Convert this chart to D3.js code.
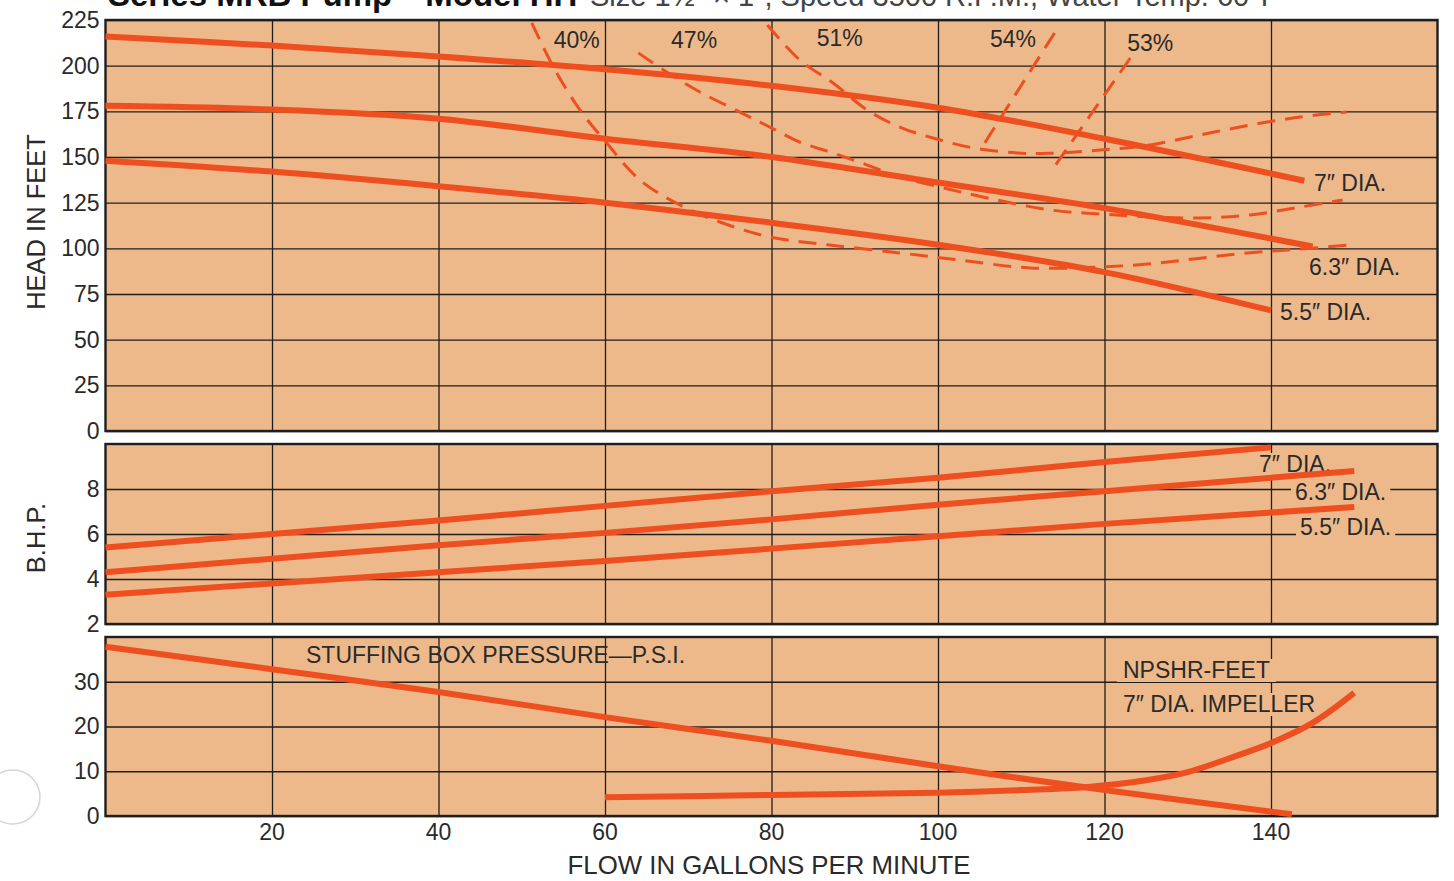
<!DOCTYPE html>
<html>
<head>
<meta charset="utf-8">
<script src="https://cdn.jsdelivr.net/npm/d3@7"></script>
<style>
  body{margin:0;background:#fff;}
  svg{display:block;font-family:"Liberation Sans",Arial,sans-serif;}
  .tick text{fill:#2a2a2a;font-size:23px;}
  .lbl{fill:#2a2a2a;font-size:23px;}
</style>
</head>
<body>
<div id="chart"></div>
<script>
/* Pump performance chart: head / B.H.P. / stuffing box + NPSHR panels */

// ---- data ----
var flowTicks=[20,40,60,80,100,120,140];
var headTicks=[0,25,50,75,100,125,150,175,200,225];
var bhpTicks=[2,4,6,8];
var psiTicks=[0,10,20,30];

// head-capacity curves [gpm, feet]
var head7 =[[0,216],[20,211],[40,205],[60,198],[80,189],[100,177],[120,160],[144,137]];
var head63=[[0,178],[20,176],[40,171],[60,160],[80,150],[100,136],[120,122],[145,101]];
var head55=[[0,148],[20,142],[40,134],[60,125],[80,114],[100,102],[120,87],[140,66]];

// iso-efficiency curves [gpm, feet]
var eff40=[[51.2,223.4],[54,197.6],[57,175.7],[59.9,159.3],[64.2,137.4],[69,123.7],[73.8,114.4],[79.8,106.2],[87,101.8],[95.4,97.5],[102.6,93.6],[111,89.3],[119.5,89.8],[125.5,91.5],[131.5,94.6],[137.5,97.6],[143.5,99.6],[149.5,101.8]];
var eff47=[[64,207],[67.4,196.5],[71.4,185.6],[76.2,174.6],[79.8,166.4],[83.4,158.2],[87.4,152.2],[91.5,145.6],[95.4,139.1],[100.2,133.6],[105.9,127.6],[113.5,121],[119.5,118.8],[125.5,117.2],[131.5,116.6],[137.5,118.3],[143.5,122.6],[148.6,126.5]];
var eff51=[[79.5,222.3],[83.4,203.1],[87.4,190.5],[91.5,175.7],[95.4,166.4],[99.4,160.4],[104.2,155],[109.5,152.2],[113.4,152],[119.5,153.8],[125.5,156.6],[131.5,162.1],[137.5,167.5],[143.5,171.9],[149.1,174.6]];
var eff54=[[114,217.9],[105.3,155.5]];
var eff53=[[123.1,204.2],[113.7,142.9]];
var effNames=["40%","47%","51%","54%","53%"];
var effLabelAt=[[56.6,209.7],[70.7,209.7],[88.2,210.5],[109,210],[125.5,208]];

// brake horsepower [gpm, hp]
var bhp7 =[[0,5.4],[20,6.0],[40,6.6],[60,7.25],[80,7.9],[100,8.5],[120,9.2],[140,9.85]];
var bhp63=[[0,4.3],[20,4.9],[40,5.5],[60,6.05],[80,6.65],[100,7.3],[120,7.9],[150,8.8]];
var bhp55=[[0,3.3],[20,3.8],[40,4.3],[60,4.8],[80,5.35],[100,5.9],[120,6.45],[150,7.2]];

// lower panel [gpm, psi / feet]
var stuffing=[[0,37.8],[20,32.8],[40,27.7],[60,22.1],[80,16.8],[100,11.1],[120,5.8],[142.5,0.4]];
var npshr=[[60,4.2],[80,4.7],[100,5.2],[110,5.8],[118,6.5],[125,8.0],[130,9.8],[135,12.9],[140,16.3],[145,20.8],[150,27.5]];

// ---- layout ----
var W=1454,H=881, L=105.5, R=1437.5;
var panelFill="#edb98a", lineCol="#ee4f20", ink="#1e1e1e";
var svg=d3.select("#chart").append("svg").attr("width",W).attr("height",H);

var x=d3.scaleLinear().domain([0,160]).range([L,R]);
var yHead=d3.scaleLinear().domain([0,225]).range([431,20]);
var yBhp=d3.scaleLinear().domain([2,10]).range([624,444]);
var yPsi=d3.scaleLinear().domain([0,40]).range([816,637]);

// heading, cut by the top edge as in the scanned page
var title=svg.append("text").attr("y",6);
title.append("tspan").attr("x",108).style("font-weight","900").style("font-size","33px").attr("fill","#111").text("Series MRB Pump—Model HH ");
title.append("tspan").attr("x",590).style("font-size","29px").attr("fill","#444").text("Size 1½\u2033 \u00d7 1\u2033, Speed 3500 R.P.M., Water Temp. 60\u00b0F");

// punched-hole mark on the paper
svg.append("circle").attr("cx",13).attr("cy",797).attr("r",27).attr("fill","#fff").attr("stroke","#d4d4d4").attr("stroke-width",1.5);

function panel(y,ticks){
    var g=svg.append("g");
    var y0=y.range()[0], y1=y.range()[1];
    g.append("rect").attr("x",L).attr("y",y1).attr("width",R-L).attr("height",y0-y1).attr("fill",panelFill);
    var ay=g.append("g").attr("transform","translate("+L+",0)")
        .call(d3.axisLeft(y).tickValues(ticks).tickSize(-(R-L)).tickPadding(6).tickFormat(d3.format("d")));
    ay.select(".domain").remove();
    ay.selectAll(".tick line").attr("stroke",ink).attr("stroke-width",1.3);
    var ax=g.append("g").attr("transform","translate(0,"+y0+")")
        .call(d3.axisTop(x).tickValues(flowTicks).tickSize(y0-y1).tickFormat(""));
    ax.select(".domain").remove();
    ax.selectAll(".tick line").attr("stroke",ink).attr("stroke-width",1.3);
    g.append("rect").attr("class","frame").attr("x",L).attr("y",y1).attr("width",R-L).attr("height",y0-y1)
        .attr("fill","none").attr("stroke",ink).attr("stroke-width",2.4);
    return g;
}

var p1=panel(yHead,headTicks), p2=panel(yBhp,bhpTicks), p3=panel(yPsi,psiTicks);

function curve(g,y,pts,w,dash){
    var ln=d3.line().x(function(d){return x(d[0]);}).y(function(d){return y(d[1]);}).curve(d3.curveCatmullRom);
    var p=g.append("path").attr("d",ln(pts)).attr("fill","none").attr("stroke",lineCol)
        .attr("stroke-width",w).attr("stroke-linecap","butt");
    if(dash) p.attr("stroke-dasharray",dash);
    return p;
}

// label with a paper-coloured box that breaks the grid lines behind it
function boxLabel(g,px,py,txt,pad){
    var t=g.append("text").attr("class","lbl").attr("x",px).attr("y",py).text(txt);
    if(pad!==undefined){
        var b=t.node().getBBox();
        g.insert("rect","text.lbl").attr("x",b.x-pad).attr("y",b.y+2).attr("width",b.width+2*pad).attr("height",b.height-3).attr("fill",panelFill);
    }
    return t;
}

// head panel
[eff40,eff47,eff51,eff54,eff53].forEach(function(c){curve(p1,yHead,c,3,"18,10");});
[head7,head63,head55].forEach(function(c){curve(p1,yHead,c,6);});
effNames.forEach(function(n,i){
    p1.append("text").attr("class","lbl").attr("x",x(effLabelAt[i][0])).attr("y",yHead(effLabelAt[i][1]))
        .attr("text-anchor","middle").text(n);
});
var diaNames=["7\u2033 DIA.","6.3\u2033 DIA.","5.5\u2033 DIA."];
boxLabel(p1,1314,191,diaNames[0]);
boxLabel(p1,1309,275,diaNames[1]);
boxLabel(p1,1280,320,diaNames[2]);

// BHP panel (labels first so the curves stay on top of their boxes)
var lb2=p2.append("g");
boxLabel(lb2,1259,472,diaNames[0],3);
boxLabel(lb2,1295,500,diaNames[1],4);
boxLabel(lb2,1300,535,diaNames[2],4);
[bhp7,bhp63,bhp55].forEach(function(c){curve(p2,yBhp,c,6);});

// stuffing box / NPSHR panel
var lb3=p3.append("g");
boxLabel(lb3,306,663,"STUFFING BOX PRESSURE\u2014P.S.I.");
boxLabel(lb3,1123,678,"NPSHR-FEET",6);
boxLabel(lb3,1123,712,"7\u2033 DIA. IMPELLER",6);
curve(p3,yPsi,stuffing,6);
curve(p3,yPsi,npshr,6);

// x tick labels and axis titles
svg.append("g").selectAll("text").data(flowTicks).enter().append("text")
    .attr("x",function(d){return x(d);}).attr("y",840).attr("text-anchor","middle")
    .style("font-size","23px").attr("fill","#2a2a2a").text(function(d){return d;});
svg.append("text").attr("x",769).attr("y",874).attr("text-anchor","middle").style("font-size","25.8px").attr("fill","#2a2a2a")
    .text("FLOW IN GALLONS PER MINUTE");
svg.append("text").attr("transform","translate(45,222) rotate(-90)").attr("text-anchor","middle").style("font-size","25.5px").attr("fill","#2a2a2a")
    .text("HEAD IN FEET");
svg.append("text").attr("transform","translate(45,538) rotate(-90)").attr("text-anchor","middle").style("font-size","25.5px").attr("fill","#2a2a2a")
    .text("B.H.P.");
</script>
</body>
</html>
